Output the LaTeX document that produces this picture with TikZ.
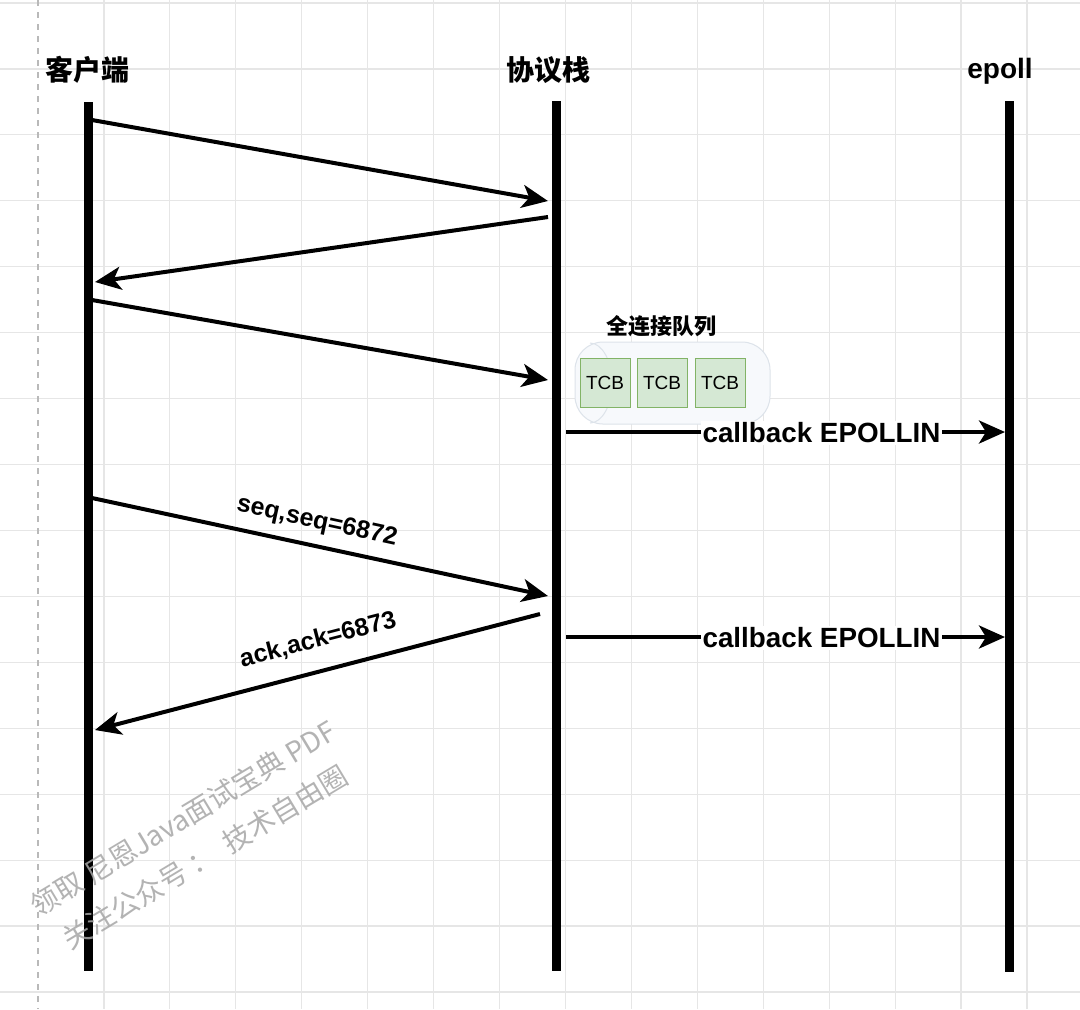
\documentclass[tikz,border=0pt]{standalone}
\usepackage{fontspec}
\setmainfont{Liberation Sans}
\newfontfamily\cjk{Noto Sans CJK SC}
\usetikzlibrary{arrows.meta}
\definecolor{tcbfill}{HTML}{D5E8D4}
\definecolor{tcbline}{HTML}{82B366}
\definecolor{gridc}{HTML}{E6E6E6}
\definecolor{queuefill}{HTML}{F7F9FC}
\definecolor{queueline}{HTML}{DDE3EA}
\begin{document}
\begin{tikzpicture}[x=0.5pt,y=-0.5pt,
  lifeline/.style={line width=4.5pt, black},
  msg/.style={line width=2pt, black, -{Stealth[length=13pt,width=11.5pt,inset=3.5pt]}},
  gridline/.style={draw=gridc, line width=0.6pt},
  title/.style={font=\cjk\bfseries\fontsize{14}{16}\selectfont, inner sep=0pt},
  lbl/.style={font=\bfseries\fontsize{12.5}{14}\selectfont, inner sep=0pt},
  cb/.style={font=\bfseries\fontsize{13.9}{16}\selectfont, fill=white, inner sep=0.8pt},
  tcbbox/.style={draw=tcbline, line width=0.5pt, fill=tcbfill, minimum width=25pt, minimum height=24.5pt, inner sep=0pt, font=\fontsize{9.5}{11}\selectfont},
  wm/.style={font=\cjk\fontsize{14}{16}\selectfont, text=gray!70, opacity=0.85, inner sep=0pt, rotate=31}
]
% background and grid
\fill[white] (0,0) rectangle (1080,1009);
\useasboundingbox (0,0) rectangle (1080,1009);
\foreach \i in {1,...,15} \draw[gridline] ({38+65.93*\i},0) -- ({38+65.93*\i},1009);
\foreach \i in {0,...,15} \draw[gridline] (0,{3+65.93*\i}) -- (1080,{3+65.93*\i});
\draw[gray!55, line width=0.6pt, dashed] (38,0) -- (38,1009);

% titles
\node[title] (tclient) at (87,70) {客户端};
\node[title] (tstack) at (548,70) {协议栈};
\node[font=\bfseries\fontsize{14}{16}\selectfont, inner sep=0pt, anchor=base] (tepoll) at (1000,78) {epoll};

% lifelines
\coordinate (ctop) at (88,102); \coordinate (cbot) at (88,971);
\coordinate (stop) at (556,101); \coordinate (sbot) at (556,971);
\coordinate (etop) at (1009,101); \coordinate (ebot) at (1009,972);
\draw[lifeline] (ctop) -- (cbot);
\draw[lifeline] (stop) -- (sbot);
\draw[lifeline] (etop) -- (ebot);

% queue
\node[draw=queueline, fill=queuefill, line width=0.5pt, rounded corners=14pt, minimum width=97.5pt, minimum height=41pt, inner sep=0pt] (queue) at (672.5,383) {};
\draw[queueline, line width=0.5pt] (590,343) arc[start angle=-90, end angle=90, x radius=22, y radius=40];
\node[font=\cjk\bfseries\fontsize{11}{13}\selectfont, inner sep=0pt] (qlabel) at (661,326) {全连接队列};
\node[tcbbox] (tcb1) at (605,382.5) {TCB};
\node[tcbbox] (tcb2) at (662,382.5) {TCB};
\node[tcbbox] (tcb3) at (720,382.5) {TCB};

% message endpoints
\coordinate (m1a) at (92,120);  \coordinate (m1b) at (548,201);
\coordinate (m2a) at (548,217); \coordinate (m2b) at (95,282);
\coordinate (m3a) at (92,300);  \coordinate (m3b) at (548,380);
\coordinate (m4a) at (92,498);  \coordinate (m4b) at (548,596);
\coordinate (m5a) at (540,614); \coordinate (m5b) at (95,730);
\coordinate (c1a) at (566,432); \coordinate (c1b) at (1005,432);
\coordinate (c2a) at (566,637); \coordinate (c2b) at (1005,637);

\draw[msg] (m1a) -- (m1b);
\draw[msg] (m2a) -- (m2b);
\draw[msg] (m3a) -- (m3b);
\draw[msg] (m4a) -- (m4b);
\draw[msg] (m5a) -- (m5b);
\draw[msg] (c1a) -- (c1b);
\draw[msg] (c2a) -- (c2b);

\node[cb] (cb1) at (821.5,433) {callback EPOLLIN};
\node[cb] (cb2) at (821.5,638) {callback EPOLLIN};
\node[lbl, rotate=-12.2] (seq) at (317,522) {seq,seq=6872};
\node[lbl, rotate=14.5] (ack) at (318,640) {ack,ack=6873};

% watermark
\node[wm] (wm1) at (183,818) {领取 尼恩Java面试宝典 PDF};
\node[wm] (wm2) at (205,857) {关注公众号 ：\ \ 技术自由圈};
\end{tikzpicture}
\end{document}
